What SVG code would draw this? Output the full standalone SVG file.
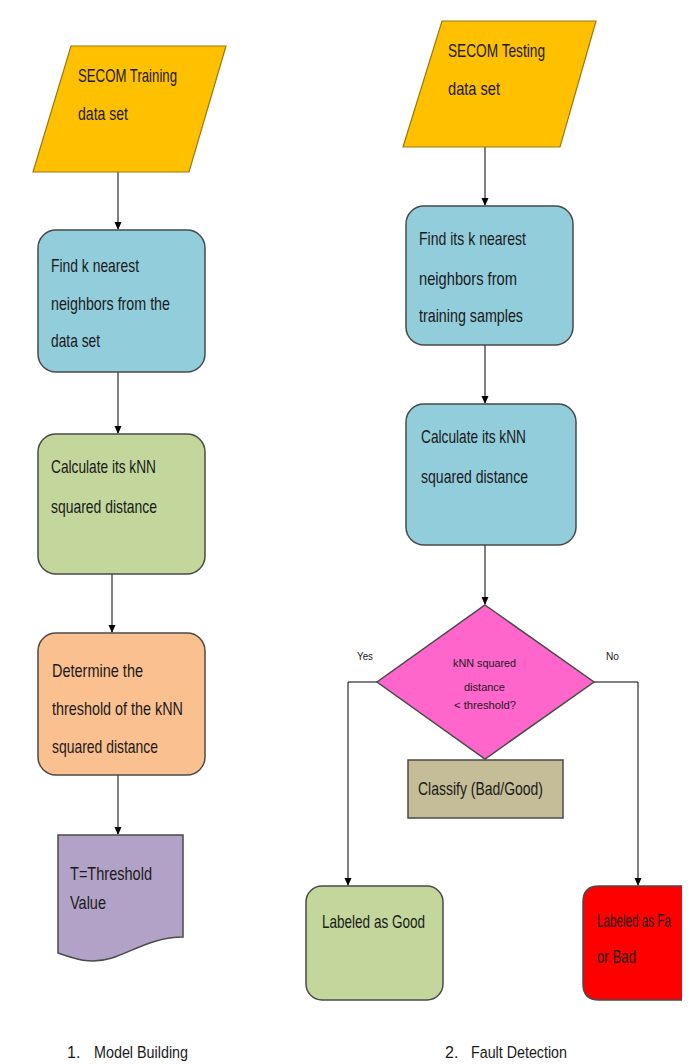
<svg xmlns="http://www.w3.org/2000/svg" width="693" height="1064" viewBox="0 0 693 1064">
<style>
text{font-family:"Liberation Sans",Arial,sans-serif;fill:#1a1a1a;font-size:19px}
.sm{font-size:11.5px}
.io{fill:#FFC000;stroke:#9a7a10;stroke-width:1.2}
.box{stroke:#4a4a4a;stroke-width:1.5}
.conn{fill:none;stroke:#000;stroke-width:1}
</style>
<defs>
<marker id="ah" markerWidth="8" markerHeight="8" refX="7" refY="4" orient="auto" markerUnits="userSpaceOnUse">
<path d="M0,0.5 L8,4 L0,7.5 Z" fill="#000"/>
</marker>
</defs>
<rect width="693" height="1064" fill="#fff"/>

<g id="connectors">
<line class="conn" x1="118" y1="172" x2="118" y2="229" marker-end="url(#ah)"/>
<line class="conn" x1="118" y1="372" x2="118" y2="433" marker-end="url(#ah)"/>
<line class="conn" x1="112" y1="574" x2="112" y2="632" marker-end="url(#ah)"/>
<line class="conn" x1="118" y1="775" x2="118" y2="834" marker-end="url(#ah)"/>
<line class="conn" x1="485" y1="147" x2="485" y2="205" marker-end="url(#ah)"/>
<line class="conn" x1="485" y1="345" x2="485" y2="403" marker-end="url(#ah)"/>
<line class="conn" x1="485" y1="545" x2="485" y2="604" marker-end="url(#ah)"/>
<polyline class="conn" points="377,682 348,682 348,885" marker-end="url(#ah)"/>
<polyline class="conn" points="594,682 638,682 638,885" marker-end="url(#ah)"/>
<text class="sm" x="357" y="660" textLength="16" lengthAdjust="spacingAndGlyphs">Yes</text>
<text class="sm" x="606" y="660" textLength="13" lengthAdjust="spacingAndGlyphs">No</text>
</g>

<g id="train-data">
<polygon class="io" points="71,46 226,46 189,172 33,172"/>
<text x="78" y="82" textLength="99" lengthAdjust="spacingAndGlyphs">SECOM Training</text>
<text x="78" y="120" textLength="50" lengthAdjust="spacingAndGlyphs">data set</text>
</g>

<g id="find-knn">
<rect class="box" x="38" y="230" width="167" height="142" rx="18" fill="#92CDDC"/>
<text x="51" y="272" textLength="88" lengthAdjust="spacingAndGlyphs">Find k nearest</text>
<text x="51" y="310" textLength="119" lengthAdjust="spacingAndGlyphs">neighbors from the</text>
<text x="51" y="347" textLength="49" lengthAdjust="spacingAndGlyphs">data set</text>
</g>

<g id="calc-train">
<rect class="box" x="38" y="434" width="167" height="140" rx="18" fill="#C3D69B"/>
<text x="51" y="473" textLength="105" lengthAdjust="spacingAndGlyphs">Calculate its kNN</text>
<text x="51" y="513" textLength="106" lengthAdjust="spacingAndGlyphs">squared distance</text>
</g>

<g id="threshold">
<rect class="box" x="38" y="633" width="167" height="142" rx="18" fill="#FAC090"/>
<text x="52" y="677" textLength="91" lengthAdjust="spacingAndGlyphs">Determine the</text>
<text x="52" y="715" textLength="131" lengthAdjust="spacingAndGlyphs">threshold of the kNN</text>
<text x="52" y="753" textLength="106" lengthAdjust="spacingAndGlyphs">squared distance</text>
</g>

<g id="threshold-value">
<path class="box" d="M58,835 H183 V937 C155,937 135,950 112,958 C90,965 72,958 58,953 Z" fill="#B3A2C7"/>
<text x="70" y="880" textLength="82" lengthAdjust="spacingAndGlyphs">T=Threshold</text>
<text x="70" y="909" textLength="36" lengthAdjust="spacingAndGlyphs">Value</text>
</g>

<g id="test-data">
<polygon class="io" points="442,21 596,21 560,147 403,147"/>
<text x="448" y="57" textLength="97" lengthAdjust="spacingAndGlyphs">SECOM Testing</text>
<text x="448" y="95" textLength="52" lengthAdjust="spacingAndGlyphs">data set</text>
</g>

<g id="find-test">
<rect class="box" x="406" y="206" width="167" height="139" rx="18" fill="#92CDDC"/>
<text x="419" y="245" textLength="107" lengthAdjust="spacingAndGlyphs">Find its k nearest</text>
<text x="419" y="285" textLength="98" lengthAdjust="spacingAndGlyphs">neighbors from</text>
<text x="419" y="322" textLength="104" lengthAdjust="spacingAndGlyphs">training samples</text>
</g>

<g id="calc-test">
<rect class="box" x="406" y="404" width="170" height="141" rx="18" fill="#92CDDC"/>
<text x="421" y="443" textLength="105" lengthAdjust="spacingAndGlyphs">Calculate its kNN</text>
<text x="421" y="483" textLength="107" lengthAdjust="spacingAndGlyphs">squared distance</text>
</g>

<g id="decision">
<polygon class="box" points="485,605 594,682 485,759 377,682" fill="#FF66CC"/>
<text class="sm" x="453" y="667" textLength="63" lengthAdjust="spacingAndGlyphs" fill="#4a1a4a">kNN squared</text>
<text class="sm" x="464" y="691" textLength="41" lengthAdjust="spacingAndGlyphs">distance</text>
<text class="sm" x="454" y="709" textLength="62" lengthAdjust="spacingAndGlyphs">&lt; threshold?</text>
</g>

<g id="classify">
<rect class="box" x="408" y="760" width="155" height="58" fill="#C4BD97"/>
<text x="418" y="795" textLength="125" lengthAdjust="spacingAndGlyphs">Classify (Bad/Good)</text>
</g>

<g id="good">
<rect class="box" x="306" y="886" width="137" height="114" rx="16" fill="#C3D69B"/>
<text x="322" y="928" textLength="103" lengthAdjust="spacingAndGlyphs">Labeled as Good</text>
</g>

<g id="bad">
<path d="M682,886 H599 Q583,886 583,902 V984 Q583,1000 599,1000 H682 Z" fill="#FF0000"/>
<path class="box" d="M682,886 H599 Q583,886 583,902 V984 Q583,1000 599,1000 H682" fill="none"/>
<text x="597" y="927" textLength="74" lengthAdjust="spacingAndGlyphs">Labeled as Fa</text>
<text x="597" y="963" textLength="39" lengthAdjust="spacingAndGlyphs">or Bad</text>
</g>

<g id="captions">
<text x="67" y="1058" style="font-size:16px">1.</text>
<text x="94" y="1058" style="font-size:16px" textLength="94" lengthAdjust="spacingAndGlyphs">Model Building</text>
<text x="445" y="1058" style="font-size:16px">2.</text>
<text x="471" y="1058" style="font-size:16px" textLength="96" lengthAdjust="spacingAndGlyphs">Fault Detection</text>
</g>
</svg>
